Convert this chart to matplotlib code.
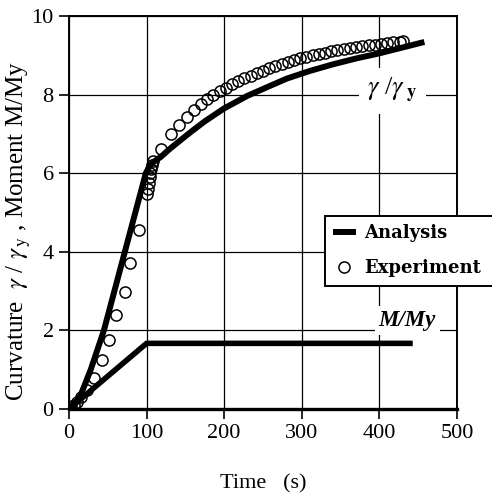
import numpy as np
import matplotlib
matplotlib.use("Agg")
import matplotlib.pyplot as plt
from matplotlib.patches import Rectangle

plt.rcParams['font.family'] = ['Liberation Serif', 'DejaVu Serif']
plt.rcParams['mathtext.fontset'] = 'stix'

# analysis curvature (gamma/gamma_y)
t_curv = [0, 5, 15, 28, 45, 72, 99, 104, 108, 112, 118, 130, 145, 157, 175, 200, 230, 260, 281,
          310, 340, 370, 400, 430, 458]
curv = [0, 0.05, 0.35, 1.0, 2.0, 4.0, 6.0, 6.18, 6.27, 6.33, 6.41, 6.62, 6.86, 7.05, 7.32, 7.65,
        7.97, 8.23, 8.41, 8.6, 8.77, 8.92, 9.05, 9.2, 9.34]

# analysis moment M/My
t_mom = [0, 100, 443]
mom = [0, 1.67, 1.67]

# experiment
t_exp = [0, 3, 6, 10, 16, 23, 32, 42, 51, 61, 72, 79, 90, 101, 102, 103, 104, 105, 106, 107, 108,
         118, 131, 142, 152, 161, 170, 178, 186, 194, 202, 210, 218, 226, 234, 242, 250, 258, 266,
         274, 282, 290, 298, 306, 314, 322, 330, 338, 346, 354, 362, 370, 378, 386, 394, 402, 410,
         418, 426, 431]
v_exp = [0, 0.05, 0.1, 0.18, 0.3, 0.49, 0.78, 1.25, 1.76, 2.4, 2.97, 3.71, 4.55, 5.48, 5.6, 5.75,
         5.9, 6.0, 6.1, 6.2, 6.3,
         6.62, 7.0, 7.22, 7.43, 7.6, 7.75, 7.88, 7.98, 8.08, 8.17, 8.26, 8.34, 8.42, 8.48, 8.55,
         8.61, 8.67, 8.73, 8.79, 8.84, 8.88, 8.92, 8.96, 9.0, 9.04, 9.07, 9.1, 9.13, 9.16, 9.19,
         9.21, 9.23, 9.25, 9.27, 9.29, 9.31, 9.33, 9.35, 9.36]

xticks = [0, 100, 200, 300, 400, 500]
yticks = [0, 2, 4, 6, 8, 10]

fig = plt.figure(figsize=(4.92, 4.93), dpi=100)
ax = fig.add_axes([0.1402, 0.1704, 0.7886, 0.7971])

ax.grid(True, color='black', lw=0.9)
ax.set_axisbelow(True)

ln, = ax.plot(t_curv, curv, color='black', lw=4.3, solid_capstyle='butt', solid_joinstyle='round',
              zorder=3)
ax.plot(t_mom, mom, color='black', lw=4.0, solid_capstyle='butt', zorder=3)
pts, = ax.plot(t_exp, v_exp, ls='none', marker='o', ms=8, mfc='none', mec='black', mew=1.1, zorder=4)

ax.set_xlim(0, 500)
ax.set_ylim(0, 10)
ax.set_xticks(xticks)
ax.set_yticks(yticks)
ax.tick_params(direction='out', length=7, width=1.2, labelsize=16, pad=4)
for s in ax.spines.values():
    s.set_linewidth(1.4)
ax.spines['bottom'].set_linewidth(2.4)

ax.set_xlabel('Time   (s)', fontsize=16, labelpad=22)
fig.text(0.038, 0.531, r'Curvature  $\gamma$ / $\gamma_{\,\mathrm{y}}$ , Moment M/My',
         rotation=90, ha='center', va='center', fontsize=18)

ax.text(417, 8.1, r'$\gamma$ /$\gamma_{\ \mathbf{y}}$', fontsize=19, ha='center', va='center',
        bbox=dict(facecolor='white', edgecolor='none', pad=6), zorder=2)
ax.text(436, 1.98, 'M/My', fontsize=16.5, fontweight='bold', fontstyle='italic', ha='center',
        va='bottom', bbox=dict(facecolor='white', edgecolor='none', pad=3), zorder=2)

# legend box runs off the right edge like the scan
box = Rectangle((325 / 492, 1 - 286 / 493), 0.5, 70 / 493, transform=fig.transFigure,
                facecolor='white', edgecolor='black', lw=1.4, zorder=5)
fig.patches.append(box)
leg = ax.legend([ln, pts], ['Analysis', 'Experiment'], loc='upper left',
                bbox_to_anchor=(325 / 492, 1 - 216 / 493), bbox_transform=fig.transFigure,
                prop={'family': 'DejaVu Serif', 'weight': 'bold', 'size': 13},
                frameon=False, handlelength=1.25,
                handletextpad=0.45, borderpad=0.45, borderaxespad=0, labelspacing=0.95)
leg.set_zorder(6)
leg.remove()
fig.legends.append(leg)
leg.set_figure(fig)

fig.savefig('out.png', dpi=100)
